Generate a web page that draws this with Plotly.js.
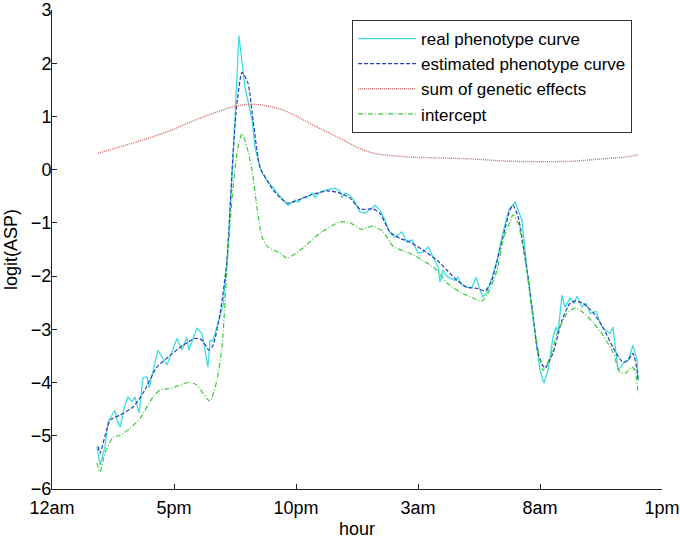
<!DOCTYPE html>
<html>
<head>
<meta charset="utf-8">
<script src="https://cdn.plot.ly/plotly-3.0.1.min.js"></script>
<style>html,body{margin:0;padding:0;background:#fff;}#chart{width:680px;height:539px;}</style>
</head>
<body>
<div id="chart"></div>
<script>
// x values in hours from the left edge of the axis (0 = "12am" tick, 25 = "1pm" tick)
const tickHours = [0, 5, 10, 15, 20, 25];
const tickLabels = ["12am", "5pm", "10pm", "3am", "8am", "1pm"];

const realHours = [1.84,1.97,2.17,2.30,2.58,2.66,2.79,2.99,3.11,3.28,3.40,3.57,3.73,3.89,3.98,4.34,4.71,5.12,5.33,5.53,5.61,5.94,6.15,6.39,6.48,6.60,7.01,7.17,7.42,7.58,7.66,7.91,8.20,8.32,8.52,8.61,8.81,9.47,9.67,9.96,10.08,10.29,10.45,10.66,10.78,10.98,11.31,11.60,11.80,11.89,12.01,12.21,12.42,12.62,12.83,13.24,13.44,13.65,13.85,14.06,14.34,14.55,14.75,15.00,15.20,15.41,15.61,15.82,15.90,16.02,16.23,16.52,16.64,16.80,17.01,17.21,17.38,17.54,17.66,17.83,18.03,18.24,18.48,18.69,18.77,18.98,19.26,19.47,19.71,20.00,20.16,20.33,20.53,20.66,20.74,20.90,21.02,21.23,21.39,21.52,21.72,21.89,22.05,22.30,22.46,22.58,22.87,22.99,23.20,23.40,23.61,23.81,23.98,24.02];
const realPhenotype = [-5.21,-5.55,-5.21,-4.74,-4.52,-4.71,-4.84,-4.42,-4.27,-4.36,-4.27,-4.57,-3.91,-3.89,-4.10,-3.39,-3.67,-3.17,-3.39,-3.15,-3.39,-2.98,-3.08,-3.71,-3.21,-3.21,-2.55,-1.75,0.20,1.60,2.52,1.55,0.93,0.42,0.05,-0.05,-0.20,-0.57,-0.67,-0.57,-0.61,-0.52,-0.53,-0.44,-0.52,-0.42,-0.37,-0.35,-0.40,-0.53,-0.44,-0.48,-0.61,-0.80,-0.82,-0.67,-0.76,-0.95,-1.19,-1.27,-1.17,-1.36,-1.32,-1.57,-1.55,-1.45,-1.64,-1.83,-2.11,-1.89,-2.02,-2.08,-2.02,-2.17,-2.21,-2.21,-2.02,-2.26,-2.39,-2.30,-2.02,-1.70,-1.19,-0.80,-0.72,-0.61,-0.95,-1.89,-2.77,-3.77,-4.01,-3.77,-3.15,-2.96,-3.06,-2.36,-2.58,-2.41,-2.51,-2.38,-2.58,-2.51,-2.70,-2.66,-2.87,-2.98,-3.08,-2.96,-3.77,-3.64,-3.58,-3.30,-3.58,-3.96];

const estHours = [1.89,1.97,2.38,2.79,3.32,3.73,4.30,4.84,5.37,5.86,6.15,6.43,6.60,6.89,7.17,7.42,7.58,7.79,8.03,8.24,8.52,8.81,9.06,9.34,9.67,10.57,11.27,11.80,12.21,12.62,13.16,13.44,13.85,14.26,14.67,15.20,15.78,16.19,16.60,17.01,17.42,17.75,18.03,18.28,18.57,18.77,18.89,19.10,19.47,19.71,19.92,20.20,20.53,20.90,21.23,21.43,21.76,22.17,22.58,22.99,23.40,23.61,23.81,23.98,24.02];
const estPhenotype = [-5.20,-5.33,-4.71,-4.61,-4.46,-4.20,-3.71,-3.49,-3.30,-3.17,-3.20,-3.39,-3.30,-2.70,-1.70,0.31,1.25,1.83,1.63,0.93,0.05,-0.20,-0.38,-0.52,-0.63,-0.48,-0.40,-0.44,-0.53,-0.74,-0.74,-0.82,-1.17,-1.29,-1.36,-1.51,-1.70,-1.89,-2.08,-2.21,-2.23,-2.28,-2.08,-1.64,-1.10,-0.76,-0.67,-0.88,-1.89,-2.70,-3.45,-3.73,-3.45,-2.83,-2.51,-2.47,-2.51,-2.68,-2.96,-3.34,-3.62,-3.58,-3.45,-3.77,-3.96];

const geneHours = [1.89,3.32,4.71,6.07,7.42,8.24,9.47,10.86,11.80,12.50,13.16,14.55,15.90,17.25,18.65,20.00,21.35,22.75,23.40,24.02];
const geneticSum = [0.31,0.50,0.71,0.97,1.18,1.23,1.12,0.80,0.59,0.42,0.31,0.24,0.22,0.20,0.16,0.15,0.16,0.21,0.23,0.28];

const interHours = [1.84,1.97,2.17,2.50,2.79,3.20,3.61,4.14,4.43,4.84,5.25,5.66,5.94,6.35,6.48,6.76,6.97,7.21,7.42,7.62,7.79,7.99,8.20,8.40,8.61,8.85,9.34,9.63,10.29,10.98,11.80,12.21,12.70,13.16,13.57,13.85,14.00,14.80,15.49,15.78,16.19,16.72,17.25,17.62,17.87,18.24,18.48,18.77,18.89,19.10,19.47,19.71,20.00,20.12,20.41,20.70,21.11,21.43,21.76,22.17,22.58,22.99,23.28,23.48,23.77,23.89,24.02];
const intercept = [-5.51,-5.68,-5.33,-5.03,-4.99,-4.86,-4.67,-4.27,-4.14,-4.11,-4.05,-3.99,-4.05,-4.30,-4.35,-3.96,-3.30,-1.57,-0.33,0.42,0.68,0.42,-0.01,-0.71,-1.27,-1.45,-1.57,-1.66,-1.47,-1.19,-0.98,-1.00,-1.12,-1.06,-1.17,-1.36,-1.45,-1.60,-1.79,-1.89,-2.13,-2.30,-2.41,-2.47,-2.32,-1.89,-1.32,-0.98,-0.85,-1.00,-1.94,-2.77,-3.58,-3.77,-3.53,-3.08,-2.70,-2.60,-2.68,-2.87,-3.11,-3.43,-3.81,-3.83,-3.71,-3.77,-4.20];

const seriesNames = ["real phenotype curve", "estimated phenotype curve", "sum of genetic effects", "intercept"];

const font = "Arial, 'Liberation Sans', sans-serif";

const traces = [
  {x: realHours, y: realPhenotype, name: seriesNames[0], type: "scatter", mode: "lines",
   line: {color: "#3fdede", width: 1.3}},
  {x: estHours, y: estPhenotype, name: seriesNames[1], type: "scatter", mode: "lines",
   line: {color: "#2c3cc0", width: 1.2, dash: "4px,2px", shape: "spline", smoothing: 0.6}},
  {x: geneHours, y: geneticSum, name: seriesNames[2], type: "scatter", mode: "lines",
   line: {color: "#d06a6a", width: 1.4, dash: "1px,1px", shape: "spline", smoothing: 0.8}},
  {x: interHours, y: intercept, name: seriesNames[3], type: "scatter", mode: "lines",
   line: {color: "#3ccc3c", width: 1.2, dash: "5px,2px,1px,2px", shape: "spline", smoothing: 0.6}}
];

const layout = {
  width: 680, height: 539,
  margin: {l: 52, r: 18, t: 10, b: 50},
  paper_bgcolor: "#fff", plot_bgcolor: "#fff",
  font: {family: font, size: 18, color: "#000"},
  showlegend: true,
  legend: {x: 0.492, y: 0.979, xanchor: "left", yanchor: "top",
           bgcolor: "#fff", bordercolor: "#333", borderwidth: 1,
           font: {family: font, size: 17, color: "#000"},
           tracegroupgap: 0, itemwidth: 58},
  xaxis: {range: [0, 25], tickvals: tickHours, ticktext: tickLabels,
          showgrid: false, zeroline: false, showline: true, linecolor: "#222", linewidth: 1,
          ticks: "inside", ticklen: 5, tickcolor: "#222", ticklabelstandoff: 2,
          tickfont: {family: font, size: 18, color: "#000"},
          title: {text: "hour", font: {family: font, size: 18, color: "#000"}, standoff: 9}},
  yaxis: {range: [-6, 3], tickvals: [-6,-5,-4,-3,-2,-1,0,1,2,3],
          showgrid: false, zeroline: false, showline: true, linecolor: "#222", linewidth: 1,
          ticks: "inside", ticklen: 5, tickcolor: "#222", ticklabelstandoff: -4,
          tickfont: {family: font, size: 18, color: "#000"},
          title: {text: "logit(ASP)", font: {family: font, size: 18, color: "#000"}, standoff: 8}}
};

Plotly.newPlot("chart", traces, layout, {displayModeBar: false, staticPlot: true});
</script>
</body>
</html>
